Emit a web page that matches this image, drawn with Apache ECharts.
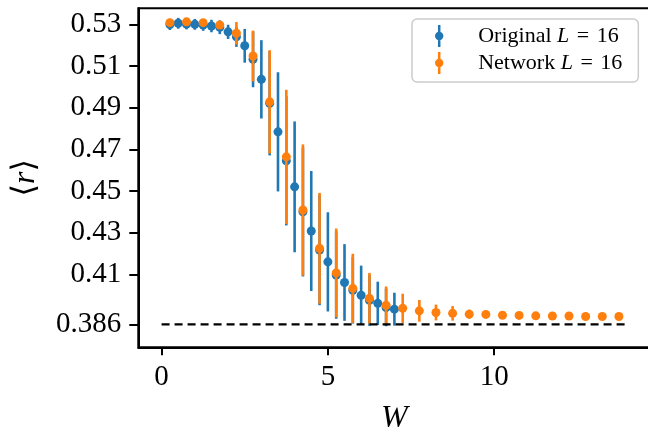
<!DOCTYPE html>
<html>
<head>
<meta charset="utf-8">
<script src="https://cdn.jsdelivr.net/npm/echarts@6/dist/echarts.min.js"></script>
<style>
html,body{margin:0;padding:0;background:#fff;}
#chart{width:648px;height:428px;}
</style>
</head>
<body>
<div id="chart"></div>
<script>
// ---- data ----
const origW = [0.25,0.5,0.75,1.0,1.25,1.5,1.75,2.0,2.25,2.5,2.75,3.0,3.25,3.5,3.75,4.0,4.25,4.5,4.75,5.0,5.25,5.5,5.75,6.0,6.25,6.5,6.75,7.0];
const origR = [0.5299,0.5305,0.5301,0.5300,0.5297,0.5292,0.5286,0.5264,0.5240,0.5197,0.5132,0.5036,0.4921,0.4784,0.4645,0.4520,0.4400,0.4308,0.4217,0.4160,0.4097,0.4061,0.4024,0.4000,0.3975,0.3961,0.3941,0.3933];
const origErr = [0.0026,0.0026,0.0025,0.0026,0.0028,0.0030,0.0033,0.0034,0.0048,0.0081,0.0134,0.0188,0.0250,0.0286,0.0310,0.0314,0.0310,0.0288,0.0265,0.0238,0.0210,0.0184,0.0160,0.0142,0.0122,0.0104,0.0090,0.0079];

const netW = [0.25,0.75,1.25,1.75,2.25,2.75,3.25,3.75,4.25,4.75,5.25,5.75,6.25,6.75,7.25,7.75,8.25,8.75,9.25,9.75,10.25,10.75,11.25,11.75,12.25,12.75,13.25,13.75];
const netR = [0.5308,0.5312,0.5308,0.5297,0.5257,0.5148,0.4928,0.4664,0.4409,0.4225,0.4107,0.4033,0.3985,0.3952,0.3937,0.3925,0.3917,0.3913,0.3909,0.3908,0.3904,0.3903,0.3901,0.3900,0.3900,0.3898,0.3898,0.3898];
const netErr = [0.0008,0.0008,0.0010,0.0012,0.0054,0.0122,0.0248,0.0322,0.0315,0.0266,0.0213,0.0166,0.0122,0.0090,0.0070,0.0052,0.0038,0.0035,0.0022,0.0018,0.0010,0.0008,0.0006,0.0005,0.0005,0.0005,0.0005,0.0005];

const refW = [0, 14];
const refR = 0.386;

const xTickValues = [0, 5, 10];
const xTickLabels = ['0', '5', '10'];
const yTickValues = [0.386, 0.41, 0.43, 0.45, 0.47, 0.49, 0.51, 0.53];
const yTickLabels = ['0.386', '0.41', '0.43', '0.45', '0.47', '0.49', '0.51', '0.53'];

const seriesNames = ['Original', 'Network'];
const legendLabels = ['Original', 'Network'];
const legendMath = 'L';
const legendSize = '16';

// ---- styling ----
const BLUE = '#1f77b4';
const ORANGE = '#ff7f0e';
const FONT = "'Liberation Serif', 'DejaVu Serif', serif";

function labelFrom(values, labels) {
  return function (v) {
    for (let i = 0; i < values.length; i++) {
      if (Math.abs(values[i] - v) < 1e-9) return labels[i];
    }
    return '';
  };
}

function errSeries(ws, rs, es, color, z) {
  return {
    type: 'custom',
    z: z,
    silent: true,
    data: ws.map((w, i) => [w, rs[i] - es[i], rs[i] + es[i]]),
    encode: { x: 0, y: [1, 2] },
    renderItem: function (params, api) {
      const p1 = api.coord([api.value(0), api.value(1)]);
      const p2 = api.coord([api.value(0), api.value(2)]);
      return {
        type: 'line',
        shape: { x1: p1[0], y1: p1[1], x2: p2[0], y2: p2[1] },
        style: { stroke: color, lineWidth: 2.6 }
      };
    }
  };
}

const chart = echarts.init(document.getElementById('chart'), null, { renderer: 'canvas' });

const iconPath = 'path://M3.75,0L6.25,0L6.25,22L3.75,22Z M5,6.8A4.2,4.2 0 1 1 5,15.2A4.2,4.2 0 1 1 5,6.8Z';

const option = {
  animation: false,
  backgroundColor: '#ffffff',
  grid: {
    left: 138.3,
    top: 8.3,
    bottom: 80.7,
    right: -2.5,
    show: true,
    borderColor: '#000000',
    borderWidth: 2,
    containLabel: false,
    outerBoundsMode: 'none'
  },
  legend: {
    orient: 'vertical',
    left: 412,
    top: 19,
    padding: [6, 16, 8, 23],
    itemGap: 5,
    itemWidth: 10,
    itemHeight: 22,
    icon: iconPath,
    backgroundColor: 'rgba(255,255,255,0.8)',
    borderColor: '#cccccc',
    borderWidth: 1.5,
    borderRadius: 5,
    selectedMode: false,
    data: seriesNames,
    formatter: function (name) {
      const i = seriesNames.indexOf(name);
      return '{s|}' + legendLabels[i] + ' {i|' + legendMath + '}{g|} = {g|}' + legendSize;
    },
    textStyle: {
      fontFamily: FONT,
      fontSize: 22,
      color: '#000000',
      rich: {
        s: { width: 29 },
        g: { width: 2 },
        i: { fontFamily: FONT, fontStyle: 'italic', fontSize: 22, color: '#000000' }
      }
    }
  },
  xAxis: {
    type: 'value',
    min: -0.7,
    max: 14.7,
    name: 'W',
    nameLocation: 'middle',
    nameGap: 55,
    nameTextStyle: { fontFamily: FONT, fontStyle: 'italic', fontSize: 32, color: '#000000' },
    axisLine: { show: true, onZero: false, lineStyle: { color: '#000000', width: 2 } },
    axisTick: { show: true, customValues: xTickValues, length: 8, lineStyle: { color: '#000000', width: 2 } },
    axisLabel: {
      customValues: xTickValues,
      formatter: labelFrom(xTickValues, xTickLabels),
      fontFamily: FONT, fontSize: 29, color: '#000000', margin: 16
    },
    splitLine: { show: false }
  },
  yAxis: {
    type: 'value',
    min: 0.375,
    max: 0.5377,
    name: '⟨{i|r}⟩',
    nameLocation: 'middle',
    nameRotate: 90,
    nameGap: 97,
    nameTextStyle: {
      fontFamily: FONT, fontSize: 32, color: '#000000',
      rich: { i: { fontFamily: FONT, fontStyle: 'italic', fontSize: 32, color: '#000000' } }
    },
    axisLine: { show: true, onZero: false, lineStyle: { color: '#000000', width: 2 } },
    axisTick: { show: true, customValues: yTickValues, length: 9, lineStyle: { color: '#000000', width: 2 } },
    axisLabel: {
      customValues: yTickValues,
      formatter: labelFrom(yTickValues, yTickLabels),
      fontFamily: FONT, fontSize: 29, color: '#000000', margin: 17
    },
    splitLine: { show: false }
  },
  series: [
    errSeries(origW, origR, origErr, BLUE, 1),
    {
      name: seriesNames[0],
      type: 'scatter',
      z: 2,
      symbol: 'circle',
      symbolSize: 9,
      itemStyle: { color: BLUE, opacity: 1 },
      silent: true,
      data: origW.map((w, i) => [w, origR[i]])
    },
    errSeries(netW, netR, netErr, ORANGE, 3),
    {
      name: seriesNames[1],
      type: 'scatter',
      z: 4,
      symbol: 'circle',
      symbolSize: 9,
      itemStyle: { color: ORANGE, opacity: 1 },
      silent: true,
      data: netW.map((w, i) => [w, netR[i]])
    },
    {
      type: 'line',
      z: 5,
      silent: true,
      symbol: 'none',
      data: refW.map(w => [w, refR]),
      lineStyle: { color: '#000000', width: 2.2, type: [8, 5] }
    }
  ]
};

chart.setOption(option);
</script>
</body>
</html>
